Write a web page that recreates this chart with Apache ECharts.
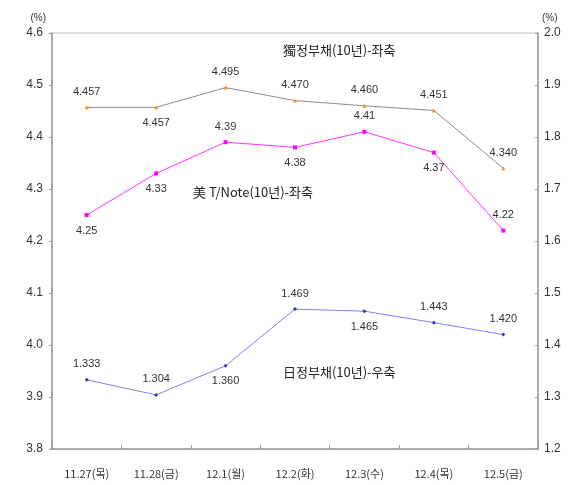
<!DOCTYPE html>
<html>
<head>
<meta charset="utf-8">
<script src="https://cdn.jsdelivr.net/npm/echarts@6/dist/echarts.min.js"></script>
<style>html,body{margin:0;padding:0;background:#fff}#c{width:576px;height:485px}</style>
</head>
<body>
<div id="c"></div>
<script>
var categories = ['11.27(목)', '11.28(금)', '12.1(월)', '12.2(화)', '12.3(수)', '12.4(목)', '12.5(금)'];
var germanBond = [4.457, 4.457, 4.495, 4.470, 4.460, 4.451, 4.340];
var usTNote = [4.25, 4.33, 4.39, 4.38, 4.41, 4.37, 4.22];
var japanBond = [1.333, 1.304, 1.360, 1.469, 1.465, 1.443, 1.420];
var germanLabelDigits = 3, usLabelDigits = 2, japanLabelDigits = 3;
var germanName = '獨정부채(10년)-좌축';
var usName = '美 T/Note(10년)-좌축';
var japanName = '日정부채(10년)-우축';

var germanLabelPos = ['top', 'bottom', 'top', 'top', 'top', 'top', 'top'];
var usLabelPos = ['bottom', 'bottom', 'top', 'bottom', 'top', 'bottom', 'top'];
var japanLabelPos = ['top', 'top', 'bottom', 'top', 'bottom', 'top', 'top'];

var FONT = '"Liberation Sans", Arial, sans-serif';
var CJK = '"Noto Sans CJK KR", sans-serif';

function build(values, pos) {
  return values.map(function (v, i) {
    return { value: v, label: { position: pos[i] } };
  });
}

var chart = echarts.init(document.getElementById('c'));
chart.setOption({
  animation: false,
  backgroundColor: '#fff',
  grid: { left: 52, right: 38, top: 33, bottom: 36, show: true, borderColor: '#c0c0c0', borderWidth: 1 },
  xAxis: {
    type: 'category', data: categories, boundaryGap: true,
    axisLine: { lineStyle: { color: '#999', width: 1.5 } },
    axisTick: { show: true, inside: true, length: 4, lineStyle: { color: '#999' } },
    axisLabel: { color: '#333', fontSize: 11, fontFamily: CJK, margin: 19 }
  },
  yAxis: [
    {
      type: 'value', min: 3.8, max: 4.6, interval: 0.1, position: 'left',
      name: '(%)', nameLocation: 'end', nameGap: 10,
      nameTextStyle: { color: '#333', fontSize: 10, fontFamily: FONT, align: 'right', padding: [0, 6, 0, 0] },
      axisLine: { show: true, lineStyle: { color: '#999', width: 1.5 } },
      axisTick: { show: true, length: 3, lineStyle: { color: '#999' } },
      axisLabel: { color: '#333', fontSize: 12, fontFamily: FONT, margin: 9, formatter: function (v) { return v.toFixed(1); } },
      splitLine: { show: false }
    },
    {
      type: 'value', min: 1.2, max: 2.0, interval: 0.1, position: 'right',
      name: '(%)', nameLocation: 'end', nameGap: 10,
      nameTextStyle: { color: '#333', fontSize: 10, fontFamily: FONT, align: 'left', padding: [0, 0, 0, 4] },
      axisLine: { show: true, lineStyle: { color: '#999', width: 1.5 } },
      axisTick: { show: true, inside: true, length: 3, lineStyle: { color: '#999' } },
      axisLabel: { color: '#333', fontSize: 12, fontFamily: FONT, margin: 6, formatter: function (v) { return v.toFixed(1); } },
      splitLine: { show: false }
    }
  ],
  series: [
    {
      name: germanName, type: 'line', yAxisIndex: 0, data: build(germanBond, germanLabelPos),
      symbol: 'triangle', symbolSize: 4,
      lineStyle: { color: '#8c8c8c', width: 1 },
      itemStyle: { color: '#ff8c1a' },
      label: { show: true, color: '#333', fontSize: 11, fontFamily: FONT, distance: 8,
        formatter: function (p) { return p.value.toFixed(germanLabelDigits); } }
    },
    {
      name: usName, type: 'line', yAxisIndex: 0, data: build(usTNote, usLabelPos),
      symbol: 'rect', symbolSize: 4,
      lineStyle: { color: '#ff33ff', width: 1 },
      itemStyle: { color: '#ff00ff' },
      label: { show: true, color: '#333', fontSize: 11, fontFamily: FONT, distance: 8,
        formatter: function (p) { return p.value.toFixed(usLabelDigits); } }
    },
    {
      name: japanName, type: 'line', yAxisIndex: 1, data: build(japanBond, japanLabelPos),
      symbol: 'diamond', symbolSize: 4,
      lineStyle: { color: '#8080f0', width: 1 },
      itemStyle: { color: '#3333bb' },
      label: { show: true, color: '#333', fontSize: 11, fontFamily: FONT, distance: 8,
        formatter: function (p) { return p.value.toFixed(japanLabelDigits); } }
    }
  ],
  graphic: [
    { type: 'text', left: 283, top: 44, style: { text: germanName, fill: '#222', font: '13px ' + CJK } },
    { type: 'text', left: 193, top: 186, style: { text: usName, fill: '#222', font: '13px ' + CJK } },
    { type: 'text', left: 283, top: 366, style: { text: japanName, fill: '#222', font: '13px ' + CJK } }
  ]
});
</script>
</body>
</html>
